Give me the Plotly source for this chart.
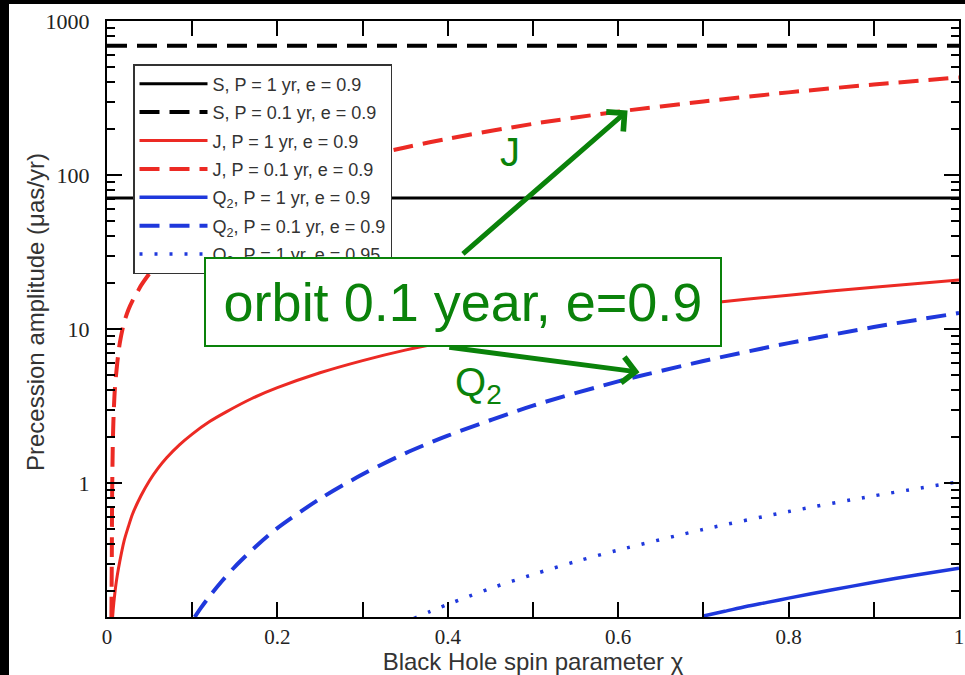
import numpy as np
import plotly.graph_objects as go

# ---- data ----
chi_S = [0.0, 1.0]
S_1yr = [71, 71]
S_01yr = [690, 690]

chi_J1 = [0.0066, 0.0075, 0.0085, 0.01, 0.012, 0.015, 0.02, 0.025, 0.03, 0.04, 0.05, 0.06, 0.07, 0.085, 0.1, 0.12, 0.14, 0.17, 0.2, 0.25, 0.3, 0.35, 0.4, 0.5, 0.6, 0.7, 0.8, 0.9, 1.0]
J_1yr = [0.135, 0.156, 0.177, 0.21, 0.25, 0.31, 0.42, 0.52, 0.63, 0.83, 1.04, 1.25, 1.46, 1.77, 2.08, 2.5, 2.9, 3.54, 4.16, 5.2, 6.24, 7.3, 8.3, 10.4, 12.5, 14.6, 16.6, 18.7, 20.8]

chi_J01 = [0.0052, 0.0056, 0.006, 0.0065, 0.007, 0.008, 0.0094, 0.012, 0.015, 0.02, 0.025, 0.03, 0.035, 0.04, 0.05, 0.06, 0.07, 0.085, 0.1, 0.12, 0.14, 0.17, 0.2, 0.25, 0.3, 0.35, 0.4, 0.5, 0.6, 0.7, 0.8, 0.9, 1.0]
J_01yr = [0.135, 0.3, 0.8, 1.4, 2.0, 3.0, 4.2, 6.0, 8.1, 11.0, 13.3, 15.3, 17.1, 19.2, 23, 27, 31, 37, 44, 52, 61, 74, 87, 108, 130, 151, 172, 215, 258, 300, 344, 387, 430]

chi_Q1 = [0.7, 0.725, 0.75, 0.775, 0.8, 0.85, 0.9, 0.95, 1.0]
Q_1yr = [0.137, 0.147, 0.158, 0.168, 0.179, 0.202, 0.227, 0.253, 0.28]

chi_Q01 = [0.103, 0.11, 0.12, 0.135, 0.15, 0.175, 0.2, 0.25, 0.3, 0.35, 0.4, 0.5, 0.6, 0.7, 0.8, 0.9, 1.0]
Q_01yr = [0.135, 0.154, 0.183, 0.231, 0.286, 0.389, 0.51, 0.79, 1.14, 1.56, 2.03, 3.18, 4.57, 6.2, 8.1, 10.3, 12.7]

chi_Q95 = [0.36, 0.38, 0.4, 0.425, 0.45, 0.5, 0.55, 0.6, 0.7, 0.8, 0.9, 1.0]
Q_1yr_e95 = [0.132, 0.147, 0.163, 0.184, 0.207, 0.255, 0.309, 0.367, 0.5, 0.653, 0.826, 1.02]

names = [
    "S, P = 1 yr, e = 0.9",
    "S, P = 0.1 yr, e = 0.9",
    "J, P = 1 yr, e = 0.9",
    "J, P = 0.1 yr, e = 0.9",
    "Q<sub>2</sub>, P = 1 yr, e = 0.9",
    "Q<sub>2</sub>, P = 0.1 yr, e = 0.9",
    "Q<sub>2</sub>, P = 1 yr, e = 0.95",
]

x_title = "Black Hole spin parameter χ"
y_title = "Precession amplitude (μas/yr)"

BLACK = "#000000"
RED = "#ec2a24"
BLUE = "#1f38dc"
GREEN = "#0a820a"
DASH = "20px,10px"
DOT = "3px,12px"

series = [
    (chi_S, S_1yr, BLACK, "solid", 3),
    (chi_S, S_01yr, BLACK, DASH, 4),
    (chi_J1, J_1yr, RED, "solid", 3),
    (chi_J01, J_01yr, RED, DASH, 4),
    (chi_Q1, Q_1yr, BLUE, "solid", 3.5),
    (chi_Q01, Q_01yr, BLUE, DASH, 4),
    (chi_Q95, Q_1yr_e95, BLUE, DOT, 3.5),
]

fig = go.Figure()
for i, (xs, ys, col, dash, w) in enumerate(series):
    fig.add_trace(go.Scatter(
        x=xs, y=ys, mode="lines", name=names[i], legendgroup=f"g{i}",
        line=dict(color=col, dash=dash, width=w, shape="spline", smoothing=0.8),
    ))

W, H = 965, 675
L, R, T, B = 107, 6, 21, 58
PW, PH = W - L - R, H - B - T

def px2paper(px, py):
    return (px - L) / PW, (H - B - py) / PH

fig.update_layout(
    width=W, height=H,
    margin=dict(l=L, r=R, t=T, b=B, pad=0, autoexpand=False),
    paper_bgcolor="white",
    plot_bgcolor="white",
    showlegend=True,
    legend=dict(
        x=(133 - L) / PW, y=(H - B - 64) / PH,
        xanchor="left", yanchor="top",
        bgcolor="white", bordercolor="#333", borderwidth=1.5,
        font=dict(family="Liberation Sans", size=18, color="#333"),
        tracegroupgap=2, itemwidth=68,
    ),
    font=dict(family="Liberation Sans", color="#333"),
)

# black frame strips at the left and top of the picture
fig.add_shape(type="rect", xref="paper", yref="paper",
              x0=-L / PW, x1=(9 - L) / PW, y0=-B / PH, y1=(H - B) / PH,
              fillcolor="black", line=dict(width=0), layer="above")
fig.add_shape(type="rect", xref="paper", yref="paper",
              x0=-L / PW, x1=(W - L) / PW, y0=(H - B - 4) / PH, y1=(H - B) / PH,
              fillcolor="black", line=dict(width=0), layer="above")

fig.update_xaxes(
    range=[0, 1], dtick=0.2, tick0=0, automargin=False,
    showline=True, linecolor="black", linewidth=2, mirror="ticks",
    ticks="inside", ticklen=15, tickwidth=1.5, tickcolor="black",
    minor=dict(dtick=0.1, ticks="inside", ticklen=15, tickwidth=1.5, tickcolor="black", showgrid=False),
    showgrid=False, zeroline=False,
    tickfont=dict(family="Liberation Serif", size=21, color="#222"),
    ticklabelstandoff=0,
    title=dict(text=x_title, standoff=0,
               font=dict(family="Liberation Sans", size=24, color="#333")),
)
fig.update_yaxes(
    type="log", range=[np.log10(0.135), 3], dtick=1, automargin=False,
    showline=True, linecolor="black", linewidth=2, mirror="ticks",
    ticks="inside", ticklen=15, tickwidth=1.5, tickcolor="black",
    minor=dict(dtick="D1", ticks="inside", ticklen=8, tickwidth=1.5, tickcolor="black", showgrid=False),
    showgrid=False, zeroline=False,
    tickfont=dict(family="Liberation Serif", size=22, color="#222"),
    ticklabelstandoff=11,
)

# y-axis title placed as rotated text
tx, ty = px2paper(35, 312)
fig.add_annotation(x=tx, y=ty, xref="paper", yref="paper", showarrow=False,
                   text=y_title, textangle=-90, xanchor="center", yanchor="middle",
                   font=dict(family="Liberation Sans", size=24, color="#333"))

# arrows (data coordinates; log axis uses log10)
fig.add_annotation(x=0.611, y=np.log10(262), ax=0.416, ay=1.48,
                   xref="x", yref="y", axref="x", ayref="y",
                   showarrow=True, arrowhead=4, arrowsize=1.0, arrowwidth=5,
                   arrowcolor=GREEN, text="", standoff=0, startstandoff=0)
fig.add_annotation(x=0.625, y=0.72, ax=0.40, ay=0.883,
                   xref="x", yref="y", axref="x", ayref="y",
                   showarrow=True, arrowhead=4, arrowsize=1.0, arrowwidth=5,
                   arrowcolor=GREEN, text="", standoff=0, startstandoff=0)

bx, by = px2paper(463, 302)
fig.add_annotation(x=bx, y=by, xref="paper", yref="paper", showarrow=False,
                   text="orbit 0.1 year, e=0.9", width=512, height=84,
                   bgcolor="white", bordercolor=GREEN, borderwidth=2, borderpad=1,
                   font=dict(family="Liberation Sans", size=54, color=GREEN))

jx, jy = px2paper(510, 128)
fig.add_annotation(x=jx, y=jy, xref="paper", yref="paper", showarrow=False,
                   text="J", font=dict(family="Liberation Sans", size=40, color=GREEN))
qx, qy = px2paper(478, 385)
fig.add_annotation(x=qx, y=qy, xref="paper", yref="paper", showarrow=False,
                   text="Q<sub>2</sub>", font=dict(family="Liberation Sans", size=40, color=GREEN))

fig.write_html(
    "out.html",
    config={"displayModeBar": False},
    post_script=(
        "document.documentElement.style.background='white';"
        "document.body.style.background='white';"
        "document.body.style.margin='0';document.body.style.padding='0';"
        "document.body.style.overflow='hidden';"
    ),
)
